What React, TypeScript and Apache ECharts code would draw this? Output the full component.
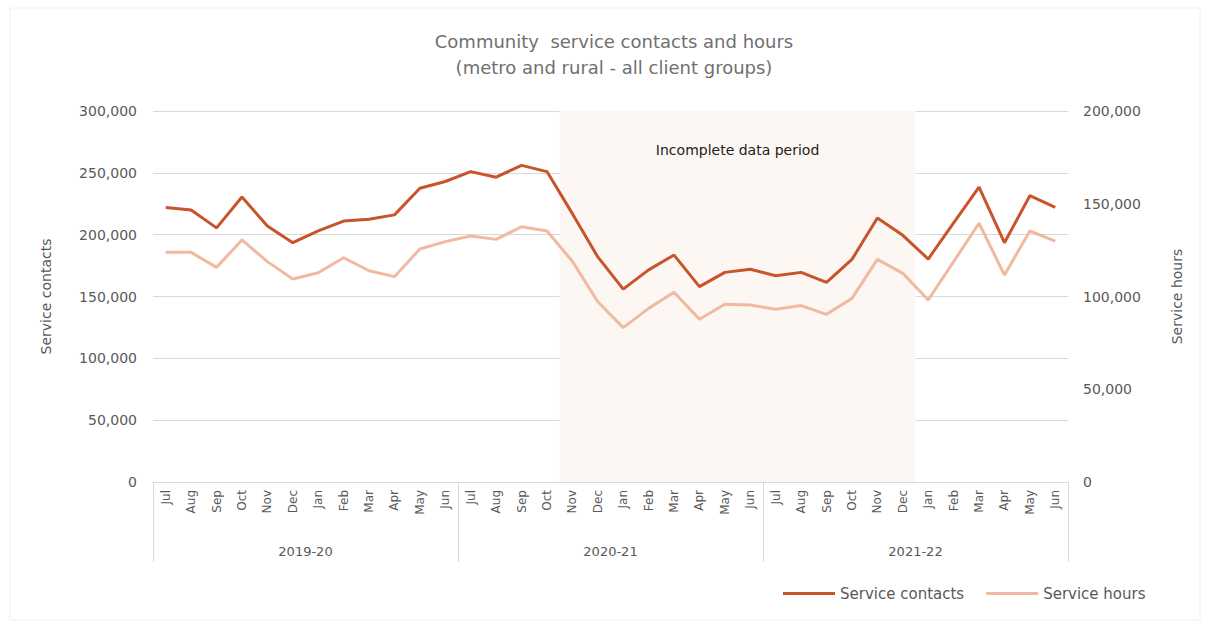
import React, { useEffect, useRef } from "react";
import * as echarts from "echarts";

const months = ["Jul", "Aug", "Sep", "Oct", "Nov", "Dec", "Jan", "Feb", "Mar", "Apr", "May", "Jun"];
const years = ["2019-20", "2020-21", "2021-22"];
const categories = years.flatMap((y) => months.map((m) => `${m} ${y}`));

const serviceContacts = [
  222000, 220000, 205500, 230500, 207000, 193500, 203000, 211000, 212500, 216000, 237500, 243000,
  251000, 246500, 256000, 251000, 217000, 182000, 156000, 171500, 183500, 158000, 169500, 172000,
  166800, 169500, 161500, 180000, 213500, 199500, 180300, 209500, 238500, 193500, 231500, 222000,
];
const serviceHours = [
  123800, 123800, 115700, 130500, 118800, 109400, 112800, 120900, 113900, 110700, 125600, 129600,
  132600, 130800, 137600, 135300, 119000, 97200, 83200, 93600, 102300, 87700, 95800, 95400,
  93100, 95100, 90400, 99000, 120000, 112500, 98100, 118800, 139500, 111600, 135300, 129900,
];
const incompleteStart = "Nov 2020-21";
const incompleteEnd = "Dec 2021-22";
const incompleteLabel = "Incomplete data period";

const FONT = "DejaVu Sans";
const GREY = "#595959";

export default function App() {
  const ref = useRef<HTMLDivElement>(null);
  useEffect(() => {
    document.body.style.margin = "0";
    const chart = echarts.init(ref.current!, null, { renderer: "svg" });
    const s = categories.indexOf(incompleteStart);
    const e = categories.indexOf(incompleteEnd) + 1;
    chart.setOption({
      animation: false,
      textStyle: { fontFamily: FONT },
      title: {
        text: "Community  service contacts and hours\n(metro and rural - all client groups)",
        left: 609,
        top: 23,
        textAlign: "center",
        textStyle: { fontSize: 18, fontWeight: "normal", color: "#707070", lineHeight: 26, fontFamily: FONT },
      },
      graphic: [
        {
          type: "rect",
          shape: { x: 10, y: 8, width: 1190, height: 612 },
          style: { fill: "none", stroke: "#f0f0f0", lineWidth: 1 },
          silent: true,
          z: -10,
        },
      ],
      legend: {
        left: 778,
        top: 581,
        itemWidth: 52,
        itemHeight: 3,
        itemGap: 22,
        icon: "rect",
        textStyle: { fontSize: 15, color: GREY, fontFamily: FONT },
        data: ["Service contacts", "Service hours"],
      },
      grid: { left: 153, right: 137, top: 111, bottom: 144 },
      xAxis: [
        {
          type: "category",
          data: categories,
          position: "bottom",
          axisLine: { show: true, lineStyle: { color: "#d9d9d9" } },
          axisTick: { show: false },
          axisLabel: {
            interval: 0,
            rotate: 90,
            margin: 8,
            fontSize: 12,
            color: GREY,
            fontFamily: FONT,
            formatter: (v: string) => v.split(" ")[0],
          },
        },
        {
          type: "category",
          data: years,
          position: "bottom",
          axisLine: { show: false },
          axisTick: { show: true, interval: 0, length: 80, lineStyle: { color: "#d9d9d9" } },
          axisLabel: { interval: 0, margin: 63, fontSize: 13, color: GREY, fontFamily: FONT },
        },
        {
          type: "value",
          min: 0,
          max: categories.length,
          show: false,
        },
      ],
      yAxis: [
        {
          type: "value",
          min: 0,
          max: 300000,
          interval: 50000,
          name: "Service contacts",
          nameLocation: "middle",
          nameRotate: 90,
          nameGap: 100,
          nameTextStyle: { fontSize: 14, color: GREY, fontFamily: FONT },
          axisLine: { show: false },
          axisTick: { show: false },
          axisLabel: {
            margin: 16,
            fontSize: 14,
            color: GREY,
            fontFamily: FONT,
            formatter: (v: number) => v.toLocaleString("en-US"),
          },
          splitLine: { lineStyle: { color: "#d9d9d9" } },
        },
        {
          type: "value",
          min: 0,
          max: 200000,
          interval: 50000,
          position: "right",
          name: "Service hours",
          nameLocation: "middle",
          nameRotate: 90,
          nameGap: 102,
          nameTextStyle: { fontSize: 14, color: GREY, fontFamily: FONT },
          axisLine: { show: false },
          axisTick: { show: false },
          axisLabel: {
            margin: 15,
            fontSize: 14,
            color: GREY,
            fontFamily: FONT,
            align: "left",
            formatter: (v: number) => v.toLocaleString("en-US"),
          },
          splitLine: { show: false },
        },
      ],
      series: [
        {
          type: "custom",
          xAxisIndex: 2,
          yAxisIndex: 0,
          silent: true,
          z: 0,
          data: [[s, e]],
          renderItem: (params: any, api: any) => {
            const p0 = api.coord([api.value(0), 300000]);
            const p1 = api.coord([api.value(1), 0]);
            return {
              type: "group",
              children: [
                {
                  type: "rect",
                  shape: { x: p0[0], y: p0[1], width: p1[0] - p0[0], height: p1[1] - p0[1] },
                  style: { fill: "#fdf7f4" },
                },
                {
                  type: "text",
                  x: (p0[0] + p1[0]) / 2,
                  y: p0[1] + 39,
                  style: {
                    text: incompleteLabel,
                    fill: "#222",
                    fontSize: 14,
                    fontFamily: FONT,
                    align: "center",
                    verticalAlign: "middle",
                  },
                },
              ],
            };
          },
        },
        {
          name: "Service contacts",
          type: "line",
          xAxisIndex: 0,
          yAxisIndex: 0,
          data: serviceContacts,
          symbol: "none",
          z: 3,
          itemStyle: { color: "#c9532a" },
          lineStyle: { color: "#c9532a", width: 3 },
        },
        {
          name: "Service hours",
          type: "line",
          xAxisIndex: 0,
          yAxisIndex: 1,
          data: serviceHours,
          symbol: "none",
          z: 2,
          itemStyle: { color: "#f0b9a0" },
          lineStyle: { color: "#f0b9a0", width: 3 },
        },
      ],
    });
    return () => chart.dispose();
  }, []);
  return <div ref={ref} style={{ width: 1205, height: 626 }} />;
}
